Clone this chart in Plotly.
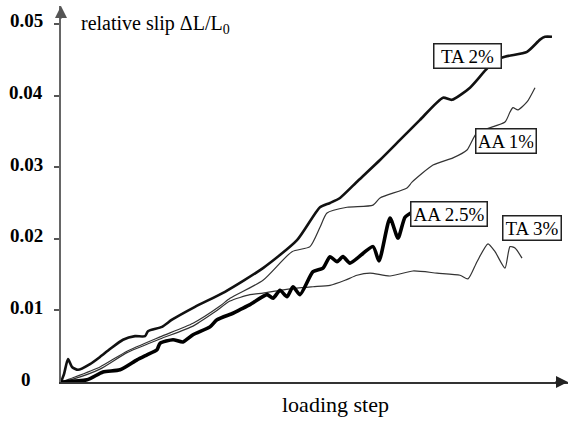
import plotly.graph_objects as go

# loading step (arbitrary units) and relative slip dL/L0
ta2_step = [0, 0.6, 1.4, 2.2, 3.4, 5.8, 7.8, 9.8, 12.4, 14.8, 16.8, 17.4, 20.2, 22.2, 26.8,
            32.8, 40.4, 47.2, 51.8, 53.8, 55.8, 59.4, 63.8, 67.8, 71.8, 76.4, 78.2, 81.8,
            85.4, 88.2, 93.2, 95.8, 96.8, 98.2]
ta2_slip = [0, 0.0011, 0.0032, 0.0021, 0.0017, 0.0025, 0.0035, 0.0046, 0.0059, 0.0064, 0.0064,
            0.0071, 0.0077, 0.0087, 0.0105, 0.0126, 0.0159, 0.0198, 0.0244, 0.0250, 0.0257,
            0.0281, 0.0310, 0.0338, 0.0366, 0.0397, 0.0394, 0.0411, 0.0439, 0.0453, 0.0461,
            0.0478, 0.0482, 0.0482]

aa1_step = [0, 2.4, 7.8, 13.2, 19.8, 26.4, 31.8, 33.8, 40.4, 46.2, 49.8, 51.8, 53.2, 57.2,
            62.4, 63.8, 69.2, 70.2, 74.4, 78.4, 81.2, 83.2, 88.8, 89.8, 90.4, 91.4, 93.2, 94.8]
aa1_slip = [0, 0.0006, 0.0021, 0.0043, 0.0063, 0.0082, 0.0106, 0.0117, 0.0142, 0.0182, 0.0189,
            0.0216, 0.0236, 0.0244, 0.0247, 0.0257, 0.0271, 0.0279, 0.0303, 0.0313, 0.0324,
            0.0348, 0.0363, 0.0377, 0.0383, 0.0380, 0.0391, 0.0411]

ta3_step = [0, 2.4, 7.8, 13.2, 19.8, 26.4, 30.8, 33.8, 37.8, 40.4, 43.8, 47.2, 50.4, 53.8,
            56.8, 59.2, 61.8, 65.8, 70.4, 75.2, 79.8, 81.4, 83.2, 85.4, 86.8, 88.8, 89.8,
            90.8, 92.2]
ta3_slip = [0, 0.0004, 0.0018, 0.0041, 0.0060, 0.0078, 0.0098, 0.0113, 0.0122, 0.0124, 0.0128,
            0.0131, 0.0133, 0.0135, 0.0142, 0.0149, 0.0152, 0.0148, 0.0155, 0.0152, 0.0149,
            0.0144, 0.0168, 0.0193, 0.0182, 0.0159, 0.0189, 0.0187, 0.0173]

aa25_step = [0, 0.4, 5.2, 8.4, 11.8, 15.2, 17.2, 19.2, 19.8, 22.4, 24.4, 26.4, 29.8, 31.2,
             34.4, 35.8, 37.8, 41.2, 42.4, 43.8, 45.2, 46.4, 47.8, 50.4, 52.4, 53.8, 55.2,
             56.4, 57.8, 62.4, 63.6, 65.8, 67.4, 68.8, 70.2]
aa25_slip = [0, 0, 0.0003, 0.0014, 0.0017, 0.0031, 0.0038, 0.0045, 0.0054, 0.0059, 0.0056,
             0.0066, 0.0077, 0.0087, 0.0096, 0.0101, 0.0108, 0.0122, 0.0117, 0.0128, 0.0119,
             0.0133, 0.0122, 0.0154, 0.0159, 0.0175, 0.0168, 0.0175, 0.0166, 0.0189, 0.0169,
             0.0229, 0.0201, 0.0230, 0.0237]

ytick_vals = [0, 0.01, 0.02, 0.03, 0.04, 0.05]
ytick_text = ["0", "0.01", "0.02", "0.03", "0.04", "0.05"]

serif = "Liberation Serif, Times New Roman, serif"

fig = go.Figure()
series = [
    (ta2_step, ta2_slip, 2.6, "#111"),
    (aa1_step, aa1_slip, 1.2, "#333"),
    (ta3_step, ta3_slip, 1.2, "#333"),
    (aa25_step, aa25_slip, 3.6, "#000"),
]
for xs, ys, w, c in series:
    fig.add_trace(go.Scatter(x=xs, y=ys, mode="lines",
                             line=dict(color=c, width=w, shape="spline", smoothing=0.6),
                             showlegend=False, hoverinfo="skip"))

# curve labels in boxes
boxes = [("TA 2%", 81.3, 0.0455, 62), ("AA 1%", 89.0, 0.0337, 55),
         ("AA 2.5%", 77.6, 0.0235, 71), ("TA 3%", 94.2, 0.0215, 53)]
for txt, bx, by, bw in boxes:
    fig.add_annotation(x=bx, y=by, text=txt, showarrow=False, width=bw, height=19,
                       xanchor="center", yanchor="middle",
                       font=dict(family=serif, size=19, color="#000"),
                       bgcolor="white", bordercolor="#222", borderwidth=1.5, borderpad=2)

# tick labels
for v, t in zip(ytick_vals, ytick_text):
    fig.add_annotation(xref="paper", x=-0.069, y=v, text="<b>" + t + "</b>", showarrow=False,
                       xanchor="center", yanchor="middle", yshift=3,
                       font=dict(family=serif, size=19, color="#000"))

# axis titles
fig.add_annotation(xref="paper", yref="paper", x=0.035, y=0.952, xanchor="left",
                   yanchor="middle", text="relative slip \u0394L/L<sub>0</sub>", showarrow=False,
                   font=dict(family=serif, size=20, color="#000"))
fig.add_annotation(xref="paper", yref="paper", x=0.542, y=-0.061, xanchor="center",
                   yanchor="middle", text="loading step", showarrow=False,
                   font=dict(family=serif, size=22, color="#000"))

# axis arrowheads
fig.add_annotation(xref="paper", yref="paper", x=0, y=1, ax=0, ay=14, text="",
                   showarrow=True, arrowhead=2, arrowsize=1.2, arrowwidth=2, arrowcolor="#555")
fig.add_annotation(xref="paper", yref="paper", x=1, y=0, ax=-14, ay=0, text="",
                   showarrow=True, arrowhead=2, arrowsize=1.2, arrowwidth=2, arrowcolor="#222")

fig.update_xaxes(range=[0, 101.4], showline=True, linecolor="#333", linewidth=2,
                 showgrid=False, zeroline=False, showticklabels=False, ticks="")
fig.update_yaxes(range=[0, 0.0525], showline=True, linecolor="#666", linewidth=2,
                 showgrid=False, zeroline=False, showticklabels=False,
                 tickvals=ytick_vals[1:], ticks="outside", ticklen=5, tickwidth=2,
                 tickcolor="#555")
fig.update_layout(width=570, height=423, margin=dict(l=61, r=2, t=6, b=41),
                  plot_bgcolor="white", paper_bgcolor="white")

# drop the browser's default page margin so the figure sits at the window corner
fig.write_html("out.html", config={"displayModeBar": False},
               post_script="document.body.style.margin='0';")
